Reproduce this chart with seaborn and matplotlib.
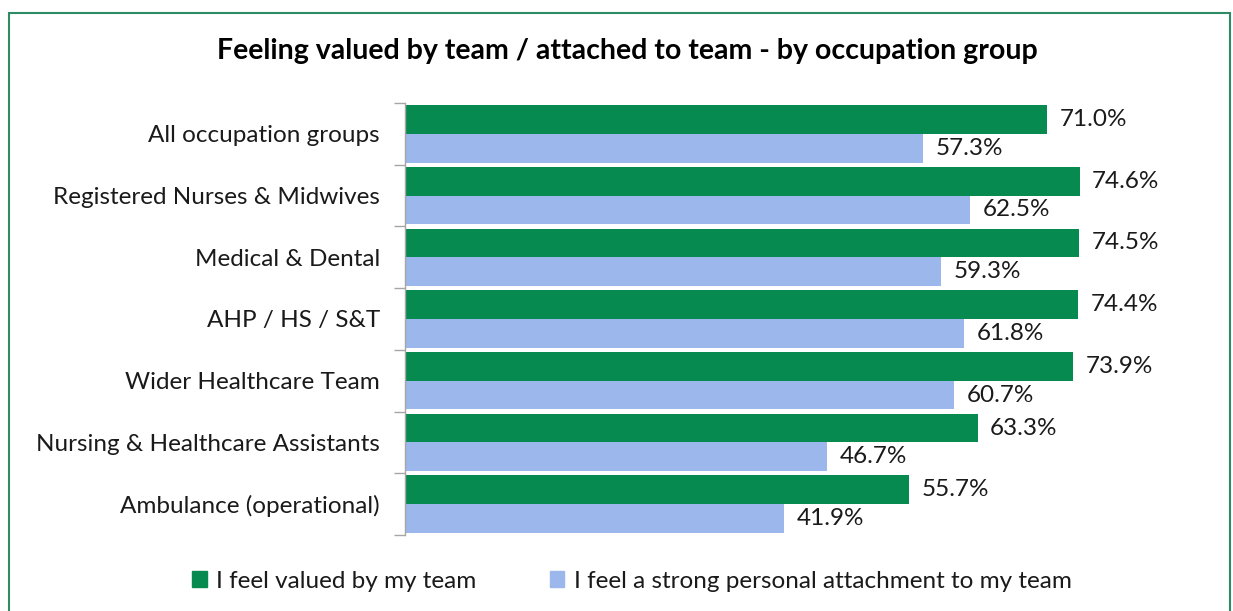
import matplotlib
matplotlib.use("Agg")
import matplotlib.pyplot as plt
import seaborn as sns
import pandas as pd
from matplotlib.patches import Rectangle
from matplotlib.ticker import FixedLocator

categories = ["All occupation groups", "Registered Nurses & Midwives", "Medical & Dental",
              "AHP / HS / S&T", "Wider Healthcare Team", "Nursing & Healthcare Assistants",
              "Ambulance (operational)"]
valued = [71.0, 74.6, 74.5, 74.4, 73.9, 63.3, 55.7]
attached = [57.3, 62.5, 59.3, 61.8, 60.7, 46.7, 41.9]
series = ["I feel valued by my team", "I feel a strong personal attachment to my team"]
colors = ["#078A50", "#9CB7EB"]

sns.set_theme(style="white")
plt.rcParams['font.family'] = ['Lato', 'DejaVu Sans']

df = pd.DataFrame({
    "cat": categories * 2,
    "val": valued + attached,
    "series": [series[0]] * len(categories) + [series[1]] * len(categories),
})

FS = 17.5
fig = plt.figure(figsize=(12.33, 6.11), dpi=100)
ax = fig.add_axes([405 / 1233, 1 - 535 / 611, (1219 - 405) / 1233, (535 - 103) / 611])
sns.barplot(data=df, y="cat", x="val", hue="series", palette=colors, orient="h",
            width=0.93, ax=ax, legend=False, saturation=1, linewidth=0)

for cont in ax.containers:
    ax.bar_label(cont, labels=[f"{v:.1f}%" for v in cont.datavalues], padding=9,
                 fontsize=FS, color="#1a1a1a")

ax.set_xlim(0, 90)
ax.set_ylim(6.5, -0.5)
ax.set_xlabel("")
ax.set_ylabel("")
ax.set_xticks([])
for s in ["top", "right", "bottom"]:
    ax.spines[s].set_visible(False)
ax.spines["left"].set_color("#a6a6a6")
ax.spines["left"].set_linewidth(1)
ax.tick_params(axis="y", which="major", length=0, pad=18, labelsize=FS, labelcolor="#1a1a1a")
ax.yaxis.set_minor_locator(FixedLocator([i - 0.5 for i in range(len(categories) + 1)]))
ax.tick_params(axis="y", which="minor", length=8, width=1, color="#a6a6a6", left=True)

fig.text(627 / 1233, 1 - 51 / 611, "Feeling valued by team / attached to team - by occupation group",
         ha="center", va="center", fontsize=20.5, fontweight="bold", color="#000000")

handles = [Rectangle((0, 0), 1, 1, color=c) for c in colors]
fig.legend(handles, series, loc="center", bbox_to_anchor=(632 / 1233, 1 - 581 / 611), ncol=2,
           frameon=False, fontsize=FS, handlelength=0.6, handleheight=0.6, handletextpad=0.4,
           columnspacing=3.0, labelcolor="#1a1a1a")

fig.add_artist(Rectangle((9 / 1233, -0.05), (1230 - 9) / 1233, 1 - 13 / 611 + 0.05,
                         transform=fig.transFigure, fill=False, edgecolor="#2E8B66", linewidth=1.5))

fig.savefig("out.png", dpi=100)
